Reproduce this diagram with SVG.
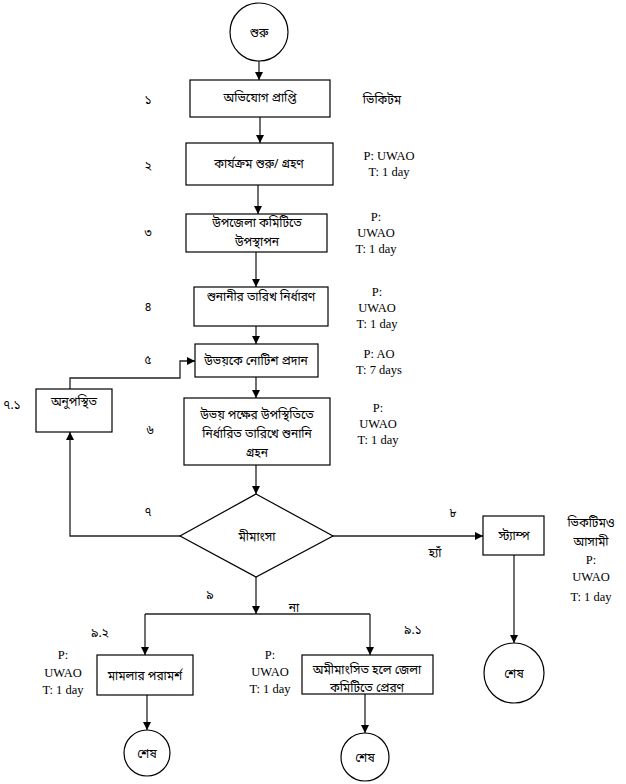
<svg xmlns="http://www.w3.org/2000/svg" width="626" height="784" viewBox="0 0 626 784">
<style>
  .bg { fill: #ffffff; }
  .box { fill: #ffffff; stroke: #000000; stroke-width: 1.2; }
  .ln { fill: none; stroke: #222222; stroke-width: 1.3; }
  .bn { font-family: "Noto Sans Bengali", "Noto Serif Bengali", "Lohit Bengali", "Liberation Serif", serif; font-size: 12px; fill: #000000; text-anchor: middle; }
  .lt { font-family: "Liberation Serif", serif; font-size: 12.5px; fill: #000000; text-anchor: middle; }
</style>
<defs>
  <marker id="arr" markerWidth="10" markerHeight="10" refX="9" refY="5" orient="auto" markerUnits="userSpaceOnUse">
    <path d="M1,1 L9,5 L1,9 Z" fill="#000000"/>
  </marker>
</defs>
<rect class="bg" x="0" y="0" width="626" height="784"/>

<g id="connectors">
  <line class="ln" x1="259" y1="61" x2="259" y2="80" marker-end="url(#arr)"/>
  <line class="ln" x1="260" y1="117" x2="260" y2="143" marker-end="url(#arr)"/>
  <line class="ln" x1="258" y1="185" x2="258" y2="214" marker-end="url(#arr)"/>
  <line class="ln" x1="256" y1="252" x2="256" y2="287" marker-end="url(#arr)"/>
  <line class="ln" x1="256" y1="326" x2="256" y2="344" marker-end="url(#arr)"/>
  <line class="ln" x1="256" y1="377" x2="256" y2="398" marker-end="url(#arr)"/>
  <line class="ln" x1="256" y1="465" x2="256" y2="494" marker-end="url(#arr)"/>
  <polyline class="ln" points="70,389 70,378 180,378 180,361 195,361" marker-end="url(#arr)"/>
  <polyline class="ln" points="180,536 70,536 70,432" marker-end="url(#arr)"/>
  <line class="ln" x1="333" y1="536" x2="483" y2="536" marker-end="url(#arr)"/>
  <line class="ln" x1="514" y1="555" x2="514" y2="643" marker-end="url(#arr)"/>
  <line class="ln" x1="256" y1="577" x2="256" y2="614" marker-end="url(#arr)"/>
  <polyline class="ln" points="145,614 370,614"/>
  <line class="ln" x1="145" y1="614" x2="145" y2="655" marker-end="url(#arr)"/>
  <line class="ln" x1="370" y1="614" x2="370" y2="655" marker-end="url(#arr)"/>
  <line class="ln" x1="147" y1="695" x2="147" y2="730" marker-end="url(#arr)"/>
  <line class="ln" x1="365" y1="694" x2="365" y2="733" marker-end="url(#arr)"/>
</g>

<g id="start">
  <circle class="box" cx="259" cy="32" r="29"/>
  <text class="bn" x="259" y="37">শুরু</text>
</g>

<g id="n1">
  <rect class="box" x="190" y="80" width="140" height="37"/>
  <text class="bn" x="260" y="102">অভিযোগ প্রাপ্তি</text>
</g>
<g id="n2">
  <rect class="box" x="186" y="143" width="147" height="42"/>
  <text class="bn" x="259" y="168">কার্যক্রম শুরু/ গ্রহণ</text>
</g>
<g id="n3">
  <rect class="box" x="186" y="214" width="141" height="38"/>
  <text class="bn" x="257" y="227">উপজেলা কমিটিতে</text>
  <text class="bn" x="257" y="246">উপস্থাপন</text>
</g>
<g id="n4">
  <rect class="box" x="194" y="287" width="134" height="39"/>
  <text class="bn" x="261" y="301">শুনানীর তারিখ নির্ধারণ</text>
</g>
<g id="n5">
  <rect class="box" x="195" y="344" width="123" height="33"/>
  <text class="bn" x="256" y="365">উভয়কে নোটিশ প্রদান</text>
</g>
<g id="n6">
  <rect class="box" x="184" y="398" width="146" height="67"/>
  <text class="bn" x="257" y="419">উভয় পক্ষের উপস্থিতিতে</text>
  <text class="bn" x="257" y="438">নির্ধারিত তারিখে শুনানি</text>
  <text class="bn" x="257" y="457">গ্রহন</text>
</g>
<g id="n71">
  <rect class="box" x="36" y="389" width="76" height="43"/>
  <text class="bn" x="74" y="406">অনুপস্থিত</text>
</g>
<g id="n7">
  <polygon class="box" points="256,494 333,536 256,577 180,536"/>
  <text class="bn" x="257" y="541">মীমাংসা</text>
</g>
<g id="n8">
  <rect class="box" x="483" y="516" width="61" height="39"/>
  <text class="bn" x="514" y="540">স্ট্যাম্প</text>
</g>
<g id="end8">
  <circle class="box" cx="514" cy="673" r="30"/>
  <text class="bn" x="514" y="678">শেষ</text>
</g>
<g id="n92">
  <rect class="box" x="97" y="655" width="96" height="40"/>
  <text class="bn" x="145" y="680">মামলার পরামর্শ</text>
</g>
<g id="end92">
  <circle class="box" cx="147" cy="753" r="23"/>
  <text class="bn" x="147" y="758">শেষ</text>
</g>
<g id="n91">
  <rect class="box" x="302" y="655" width="131" height="39"/>
  <text class="bn" x="367" y="674">অমীমাংসিত হলে জেলা</text>
  <text class="bn" x="367" y="692">কমিটিতে প্রেরণ</text>
</g>
<g id="end91">
  <circle class="box" cx="365" cy="757" r="24"/>
  <text class="bn" x="365" y="762">শেষ</text>
</g>

<g id="labels">
  <text class="bn" x="148" y="104">১</text>
  <text class="bn" x="148" y="170">২</text>
  <text class="bn" x="148" y="237">৩</text>
  <text class="bn" x="148" y="311">৪</text>
  <text class="bn" x="148" y="364">৫</text>
  <text class="bn" x="150" y="434">৬</text>
  <text class="bn" x="12" y="409">৭.১</text>
  <text class="bn" x="148" y="516">৭</text>
  <text class="bn" x="453" y="517">৮</text>
  <text class="bn" x="435" y="557">হ্যাঁ</text>
  <text class="bn" x="210" y="599">৯</text>
  <text class="bn" x="294" y="612">না</text>
  <text class="bn" x="100" y="637">৯.২</text>
  <text class="bn" x="413" y="634">৯.১</text>

  <text class="bn" x="382" y="104">ভিকিটম</text>
  <text class="lt" x="389" y="160">P: UWAO</text>
  <text class="lt" x="389" y="176">T: 1 day</text>
  <text class="lt" x="376" y="221">P:</text>
  <text class="lt" x="376" y="237">UWAO</text>
  <text class="lt" x="376" y="253">T: 1 day</text>
  <text class="lt" x="377" y="296">P:</text>
  <text class="lt" x="377" y="312">UWAO</text>
  <text class="lt" x="377" y="328">T: 1 day</text>
  <text class="lt" x="379" y="358">P: AO</text>
  <text class="lt" x="379" y="374">T: 7 days</text>
  <text class="lt" x="378" y="412">P:</text>
  <text class="lt" x="378" y="428">UWAO</text>
  <text class="lt" x="378" y="444">T: 1 day</text>
  <text class="bn" x="591" y="527">ভিকটিমও</text>
  <text class="bn" x="591" y="546">আসামী</text>
  <text class="lt" x="591" y="564">P:</text>
  <text class="lt" x="591" y="581">UWAO</text>
  <text class="lt" x="591" y="601">T: 1 day</text>
  <text class="lt" x="63" y="659">P:</text>
  <text class="lt" x="63" y="677">UWAO</text>
  <text class="lt" x="63" y="694">T: 1 day</text>
  <text class="lt" x="270" y="659">P:</text>
  <text class="lt" x="270" y="676">UWAO</text>
  <text class="lt" x="270" y="693">T: 1 day</text>
</g>
</svg>
